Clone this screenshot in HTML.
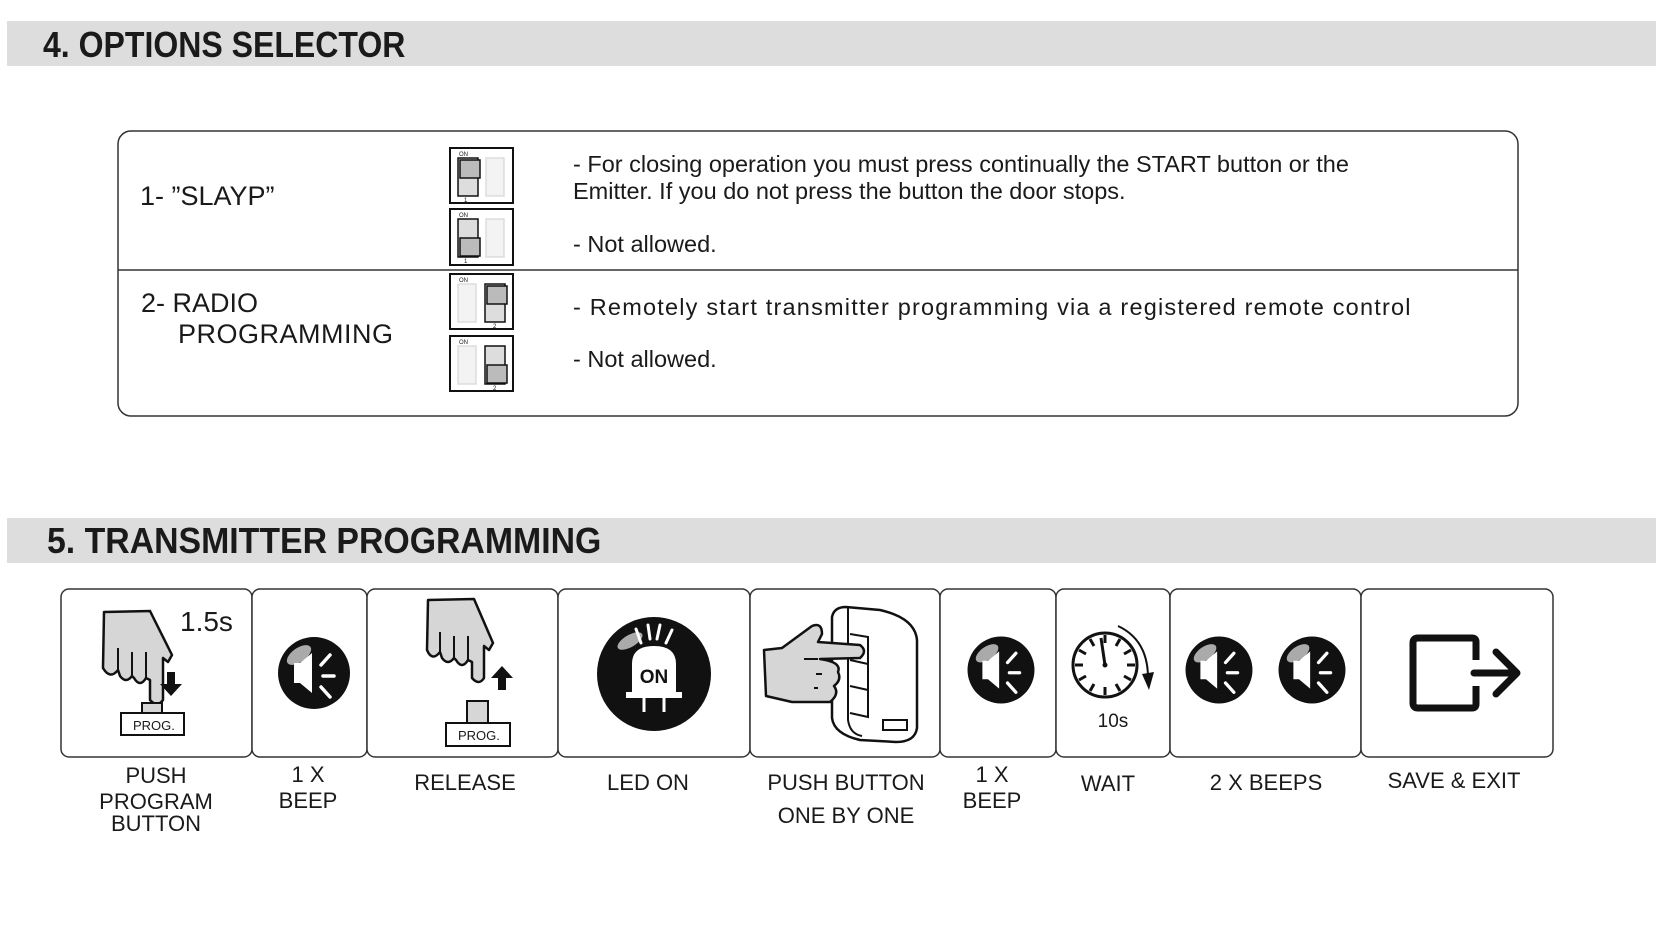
<!DOCTYPE html>
<html><head><meta charset="utf-8"><style>
html,body{margin:0;padding:0;background:#fff;}
svg{display:block;}
text{font-family:"Liberation Sans",Arial,sans-serif;fill:#1a1a1a;}
.h{font-weight:bold;font-size:36px;fill:#1a1a1a;}
.t{font-size:23.5px;}
.l{font-size:22px;}
.box{fill:#fff;stroke:#333;stroke-width:1.5;}
.g{fill:#d6d6d6;stroke:#111;stroke-width:2.5;stroke-linejoin:round;}
</style></head><body>
<svg width="1667" height="943" viewBox="0 0 1667 943" xmlns="http://www.w3.org/2000/svg">
<defs>
<g id="spk">
<circle cx="0" cy="0" r="36" fill="#111"/>
<ellipse cx="-15" cy="-18" rx="14" ry="7" transform="rotate(-35 -15 -18)" fill="#aaa"/>
<path d="M-20,-10 h6 l12,-10 v40 l-12,-10 h-6 z" fill="#fff"/>
<path d="M7,-8 l9,-10 M9,3 h11 M7,14 l9,10" stroke="#fff" stroke-width="3.5" stroke-linecap="round"/>
</g>
</defs>

<!-- Header 1 -->
<rect x="7" y="21" width="1649" height="45" fill="#dddddd"/>
<text class="h" x="43" y="57" transform="translate(43 0) scale(0.89 1) translate(-43 0)">4. OPTIONS SELECTOR</text>

<!-- options box -->
<rect x="118" y="131" width="1400" height="285" rx="13" class="box"/>
<line x1="118" y1="270" x2="1518" y2="270" stroke="#333" stroke-width="1.5"/>
<text x="140" y="205" font-size="27">1-  ”SLAYP”</text>
<text x="141" y="312" font-size="27">2-  RADIO</text>
<text x="178" y="343" font-size="27" letter-spacing="0.5">PROGRAMMING</text>

<!-- dip switches -->
<g transform="translate(450,148)">
<rect x="0" y="0" width="63" height="55" fill="#fff" stroke="#111" stroke-width="2"/>
<text x="9" y="8" font-size="6">ON</text>
<rect x="8" y="10" width="20" height="38" fill="#ddd" stroke="#111" stroke-width="1.5"/>
<rect x="10" y="12" width="20" height="18" fill="#bbb" stroke="#111" stroke-width="1.5"/>
<rect x="36" y="10" width="18" height="38" fill="#f3f3f3" stroke="#ddd" stroke-width="1.5"/>
<text x="14" y="54" font-size="6">1</text>
</g>
<g transform="translate(450,209)">
<rect x="0" y="0" width="63" height="56" fill="#fff" stroke="#111" stroke-width="2"/>
<text x="9" y="8" font-size="6">ON</text>
<rect x="8" y="10" width="20" height="38" fill="#ddd" stroke="#111" stroke-width="1.5"/>
<rect x="10" y="29" width="20" height="18" fill="#bbb" stroke="#111" stroke-width="1.5"/>
<rect x="36" y="10" width="18" height="38" fill="#f3f3f3" stroke="#ddd" stroke-width="1.5"/>
<text x="14" y="54" font-size="6">1</text>
</g>
<g transform="translate(450,274)">
<rect x="0" y="0" width="63" height="55" fill="#fff" stroke="#111" stroke-width="2"/>
<text x="9" y="8" font-size="6">ON</text>
<rect x="8" y="10" width="18" height="38" fill="#f3f3f3" stroke="#ddd" stroke-width="1.5"/>
<rect x="35" y="10" width="20" height="38" fill="#ddd" stroke="#111" stroke-width="1.5"/>
<rect x="37" y="12" width="20" height="18" fill="#bbb" stroke="#111" stroke-width="1.5"/>
<text x="43" y="54" font-size="6">2</text>
</g>
<g transform="translate(450,336)">
<rect x="0" y="0" width="63" height="55" fill="#fff" stroke="#111" stroke-width="2"/>
<text x="9" y="8" font-size="6">ON</text>
<rect x="8" y="10" width="18" height="38" fill="#f3f3f3" stroke="#ddd" stroke-width="1.5"/>
<rect x="35" y="10" width="20" height="38" fill="#ddd" stroke="#111" stroke-width="1.5"/>
<rect x="37" y="29" width="20" height="18" fill="#bbb" stroke="#111" stroke-width="1.5"/>
<text x="43" y="54" font-size="6">2</text>
</g>

<text class="t" x="573" y="172">- For closing operation you must press continually the START button or the</text>
<text class="t" x="573" y="199">Emitter. If you do not press the button the door stops.</text>
<text class="t" x="573" y="252">- Not allowed.</text>
<text class="t" x="573" y="315" letter-spacing="1.2">- Remotely start transmitter programming via a registered remote control</text>
<text class="t" x="573" y="367">- Not allowed.</text>

<!-- Header 2 -->
<rect x="7" y="518" width="1649" height="45" fill="#dddddd"/>
<text class="h" x="47" y="553" transform="translate(47 0) scale(0.94 1) translate(-47 0)">5. TRANSMITTER PROGRAMMING</text>

<!-- step boxes -->
<rect x="61" y="589" width="191" height="168" rx="8" class="box"/>
<rect x="252" y="589" width="115" height="168" rx="8" class="box"/>
<rect x="367" y="589" width="191" height="168" rx="8" class="box"/>
<rect x="558" y="589" width="192" height="168" rx="8" class="box"/>
<rect x="750" y="589" width="190" height="168" rx="8" class="box"/>
<rect x="940" y="589" width="116" height="168" rx="8" class="box"/>
<rect x="1056" y="589" width="114" height="168" rx="8" class="box"/>
<rect x="1170" y="589" width="191" height="168" rx="8" class="box"/>
<rect x="1361" y="589" width="192" height="168" rx="8" class="box"/>

<!-- Box1: hand push -->
<path class="g" d="M104,612 L150,611 L172,655 L168,662 L163,658 L163,700 Q157,708 150,700 L150,680 L146,678 Q140,688 134,678 L132,676 Q126,684 120,676 L118,670 Q110,680 103,668 Z"/>
<path d="M118,648 v22 M132,652 v24 M146,652 v26" stroke="#111" stroke-width="2" fill="none"/>
<path d="M167,672 v12 h-7 l11,12 l11,-12 h-7 v-12 z" fill="#111"/>
<text x="180" y="631" font-size="28">1.5s</text>
<rect x="142" y="703" width="20" height="11" fill="#d6d6d6" stroke="#111" stroke-width="2"/>
<rect x="121" y="713" width="63" height="22" fill="#fff" stroke="#111" stroke-width="2"/>
<text x="133" y="730" font-size="13">PROG.</text>

<!-- Box2 beep -->
<use href="#spk" transform="translate(314,673)"/>

<!-- Box3: release -->
<path class="g" d="M428,600 L474,599 L493,643 L489,650 L484,646 L484,678 Q479,686 472,678 L472,662 L468,660 Q462,670 456,660 L454,658 Q448,666 442,658 L440,652 Q432,662 427,650 Z"/>
<path d="M440,632 v20 M454,636 v22 M468,636 v24" stroke="#111" stroke-width="2" fill="none"/>
<path d="M498,690 v-12 h-7 l11,-12 l11,12 h-7 v12 z" fill="#111"/>
<rect x="467" y="701" width="21" height="22" fill="#d6d6d6" stroke="#111" stroke-width="2"/>
<rect x="446" y="723" width="64" height="23" fill="#fff" stroke="#111" stroke-width="2"/>
<text x="458" y="740" font-size="13">PROG.</text>

<!-- Box4: LED on -->
<circle cx="654" cy="674" r="57" fill="#111"/>
<ellipse cx="630" cy="641" rx="14" ry="6" transform="rotate(-30 630 641)" fill="#aaa"/>
<path d="M636,629 l5,14 M648,625 l2,14 M660,625 l-3,14 M672,630 l-6,13" stroke="#fff" stroke-width="3" stroke-linecap="round"/>
<path d="M632,692 L632,664 Q632,646 654,646 Q676,646 676,664 L676,692 L682,692 L682,698 L626,698 L626,692 Z" fill="#fff"/>
<path d="M644,698 v14 M664,698 v14" stroke="#fff" stroke-width="3"/>
<text x="654" y="683" font-size="19" font-weight="bold" text-anchor="middle" style="fill:#111">ON</text>

<!-- Box5: remote + hand -->
<path d="M846,607 L880,610 Q915,618 917,640 L917,728 Q915,742 896,742 L860,740 Q834,734 832,718 L832,617 Q834,607 846,607 Z" fill="#fff" stroke="#111" stroke-width="2.5"/>
<path d="M848,608 L848,720 Q850,734 862,736" fill="none" stroke="#111" stroke-width="2"/>
<path d="M850,634 l18,3 v80 l-18,-4" fill="none" stroke="#111" stroke-width="2"/>
<path d="M850,660 l18,4 M850,686 l18,4" stroke="#111" stroke-width="2"/>
<rect x="883" y="720" width="24" height="10" fill="#fff" stroke="#111" stroke-width="2"/>
<path class="g" d="M764,650 L782,648 L812,626 Q822,622 822,634 L818,642 L860,645 Q868,651 860,658 L820,659 Q842,662 838,672 Q842,680 834,686 Q840,694 830,702 L792,702 L766,696 Z"/>
<path d="M818,659 H804 M822,674 H816 M818,688 H814" stroke="#111" stroke-width="2"/>

<!-- Box6 beep -->
<use href="#spk" transform="translate(1001,670) scale(0.93)"/>

<!-- Box7 clock -->
<circle cx="1105" cy="665" r="32" fill="#fff" stroke="#111" stroke-width="3"/>
<g stroke="#111" stroke-width="3">
<path d="M1105,635 v8 M1105,687 v8 M1075,665 h8 M1127,665 h8 M1120,639 l-4,7 M1131,650 l-7,4 M1131,680 l-7,-4 M1120,691 l-4,-7 M1090,639 l4,7 M1079,650 l7,4 M1079,680 l7,-4 M1090,691 l4,-7"/>
<path d="M1105,665 L1101,638" stroke-width="3"/>
</g>
<circle cx="1105" cy="665" r="2.5" fill="#111"/>
<path d="M1118,626 Q1148,640 1148,678" fill="none" stroke="#111" stroke-width="2"/>
<path d="M1142,674 L1149,690 L1154,672 Z" fill="#111"/>
<text x="1113" y="727" font-size="19" text-anchor="middle">10s</text>

<!-- Box8 two beeps -->
<use href="#spk" transform="translate(1219,670) scale(0.93)"/>
<use href="#spk" transform="translate(1312,670) scale(0.93)"/>

<!-- Box9 exit -->
<path d="M1476,660 V642 Q1476,638 1472,638 H1418 Q1413,638 1413,643 V703 Q1413,708 1418,708 H1472 Q1476,708 1476,704 V686" fill="none" stroke="#111" stroke-width="7"/>
<path d="M1474,673 H1512 M1496,652 L1517,673 L1496,694" fill="none" stroke="#111" stroke-width="7" stroke-linecap="round" stroke-linejoin="round"/>

<!-- labels -->
<g class="l" text-anchor="middle">
<text x="156" y="783">PUSH</text>
<text x="156" y="809">PROGRAM</text>
<text x="156" y="831">BUTTON</text>
<text x="308" y="782">1 X</text>
<text x="308" y="808">BEEP</text>
<text x="465" y="790">RELEASE</text>
<text x="648" y="790">LED ON</text>
<text x="846" y="790">PUSH BUTTON</text>
<text x="846" y="823">ONE BY ONE</text>
<text x="992" y="782">1 X</text>
<text x="992" y="808">BEEP</text>
<text x="1108" y="791">WAIT</text>
<text x="1266" y="790">2 X BEEPS</text>
<text x="1454" y="788">SAVE &amp; EXIT</text>
</g>
</svg>
</body></html>
